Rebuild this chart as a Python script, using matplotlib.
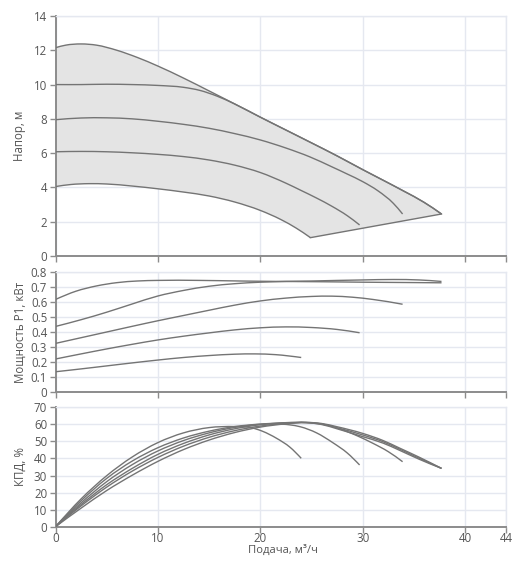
import matplotlib
matplotlib.use("Agg")
import matplotlib.pyplot as plt
from matplotlib.path import Path
from matplotlib.patches import PathPatch
import numpy as np

plt.rcParams['font.family'] = ['Open Sans', 'DejaVu Sans']

# ---------------- data ----------------
x_ticks = [0, 10, 20, 30, 40, 44]

# Head curves, m
h_max_x = [0, 1, 2.5, 4, 6, 8, 10, 12.5, 15, 17.5, 20, 22.5, 25, 27.5, 30, 32, 34, 36, 37.7]
h_max_y = [12.15, 12.3, 12.37, 12.3, 12.0, 11.58, 11.08, 10.38, 9.63, 8.87, 8.1, 7.35, 6.6, 5.84, 5.04, 4.42, 3.79, 3.13, 2.45]
h10_x = [0, 2.5, 5, 7.5, 10, 12.5, 14.1, 15.8, 17.5, 20, 22.5, 25, 27.5, 30, 32, 34, 36, 37.7]
h10_y = [10.0, 10.0, 10.02, 10.0, 9.95, 9.84, 9.66, 9.32, 8.87, 8.1, 7.35, 6.6, 5.84, 5.04, 4.42, 3.79, 3.13, 2.45]
h8_x = [0, 2.5, 5, 7.5, 10, 12.5, 15, 17.5, 20, 22.5, 24.85, 27, 28.5, 30, 31.5, 33, 33.9]
h8_y = [7.95, 8.05, 8.06, 8.0, 7.86, 7.68, 7.45, 7.14, 6.77, 6.3, 5.78, 5.2, 4.78, 4.34, 3.8, 3.07, 2.45]
h6_x = [0, 2.5, 5, 7.5, 10, 12.5, 15, 17.5, 20, 22.5, 24, 25.5, 27, 28.5, 29.7]
h6_y = [6.08, 6.1, 6.08, 6.02, 5.93, 5.8, 5.6, 5.3, 4.87, 4.25, 3.82, 3.38, 2.9, 2.35, 1.81]
h4_x = [0, 1.5, 3.3, 5, 7.5, 10, 12.5, 15, 17.5, 20, 22, 23.5, 24.9]
h4_y = [4.05, 4.17, 4.22, 4.2, 4.08, 3.92, 3.73, 3.5, 3.15, 2.66, 2.13, 1.63, 1.07]

# Power P1, kW
p_a_x = [0, 2, 4, 6, 8, 10, 14, 18, 22, 26, 30, 34, 37.7]
p_a_y = [0.615, 0.67, 0.705, 0.727, 0.738, 0.742, 0.742, 0.738, 0.735, 0.733, 0.73, 0.728, 0.726]
p_b_x = [0, 2.5, 5, 7.5, 10, 12.5, 15, 17.5, 20, 25, 30, 33, 35.5, 37.7]
p_b_y = [0.435, 0.48, 0.53, 0.585, 0.638, 0.675, 0.703, 0.72, 0.73, 0.738, 0.745, 0.748, 0.745, 0.735]
p_c_x = [0, 2.5, 5, 7.5, 10, 12.5, 15, 17.5, 20, 22.5, 25, 27, 29, 31, 33.9]
p_c_y = [0.322, 0.36, 0.398, 0.436, 0.473, 0.508, 0.543, 0.577, 0.605, 0.624, 0.635, 0.637, 0.63, 0.615, 0.583]
p_d_x = [0, 2.5, 5, 7.5, 10, 12.5, 15, 17.5, 20, 22.5, 25, 27.5, 29.7]
p_d_y = [0.218, 0.252, 0.285, 0.316, 0.345, 0.37, 0.392, 0.412, 0.426, 0.432, 0.428, 0.415, 0.393]
p_e_x = [0, 2.5, 5, 7.5, 10, 12.5, 15, 17.5, 19.5, 21.5, 24]
p_e_y = [0.133, 0.152, 0.172, 0.192, 0.211, 0.228, 0.241, 0.25, 0.252, 0.247, 0.228]

# Efficiency, %
e1_x = [0, 2.5, 5, 7.5, 10, 12.5, 15, 17.5, 19, 20.2, 21.6, 22.9, 24.0]
e1_y = [0, 16.3, 29.9, 40.9, 49.3, 55.0, 58.1, 58.7, 58.2, 56.0, 51.8, 46.6, 40.1]
e2_x = [0, 2.5, 5, 7.5, 10, 12.5, 15, 17.5, 20, 21.5, 22.9, 23.9, 25.5, 27.1, 28.5, 29.7]
e2_y = [0, 15.2, 28.3, 38.5, 46.3, 52.0, 56.0, 58.7, 60.1, 60.3, 59.7, 58.6, 55.0, 49.2, 43.2, 36.2]
e3_x = [0, 2.5, 5, 7.5, 10, 12.5, 15, 17.5, 20, 22.5, 24.5, 26.5, 27.8, 29.5, 31, 32.5, 33.9]
e3_y = [0, 14.0, 26.4, 36.4, 44.4, 50.5, 55.0, 58.2, 60.1, 60.9, 61.0, 59.6, 57.3, 53.2, 48.9, 44.0, 38.1]
e456_x = [0, 2.5, 5, 7.5, 10, 12.5, 15, 17.5, 20, 22.5, 24.5, 26, 27.5, 30, 32, 33.6, 35.5, 37.7]
e4_y = [0, 13.0, 24.6, 34.2, 42.4, 48.8, 53.8, 57.4, 59.8, 61.0, 61.2, 60.5, 58.6, 54.7, 50.5, 46.1, 40.8, 34.2]
e5_y = [0, 12.2, 23.2, 32.6, 40.6, 47.2, 52.4, 56.3, 59.0, 60.6, 61.1, 60.2, 58.0, 53.8, 49.8, 45.5, 40.2, 34.2]
e6_y = [0, 10.9, 21.2, 30.2, 38.3, 45.2, 50.8, 55.2, 58.4, 60.3, 61.0, 59.9, 57.4, 52.8, 49.0, 44.8, 39.6, 34.2]

# ---------------- styling ----------------
LINE = '#747474'
FILL = '#e4e4e4'
GRID = '#e5e8f0'
SPINE = '#8c8c8c'
TXT = '#555555'
FS = 8.3


def hermite_path(xs, ys, start_move=True):
    """Smooth cubic curve drawn through the given points (x-parameterised)."""
    x = np.asarray(xs, float)
    y = np.asarray(ys, float)
    n = len(x)
    h = np.diff(x)
    s = np.diff(y) / h
    m = np.empty(n)
    if n == 2:
        m[:] = s[0]
    else:
        m[1:-1] = (s[:-1] * h[1:] + s[1:] * h[:-1]) / (h[:-1] + h[1:])
        m[0] = (3 * s[0] - m[1]) / 2
        m[-1] = (3 * s[-1] - m[-2]) / 2
    verts = [(x[0], y[0])]
    codes = [Path.MOVETO if start_move else Path.LINETO]
    for i in range(n - 1):
        d = h[i] / 3.0
        verts += [(x[i] + d, y[i] + m[i] * d),
                  (x[i + 1] - d, y[i + 1] - m[i + 1] * d),
                  (x[i + 1], y[i + 1])]
        codes += [Path.CURVE4] * 3
    return verts, codes


def curve(ax, xs, ys):
    v, c = hermite_path(xs, ys)
    ax.add_patch(PathPatch(Path(v, c), facecolor='none', edgecolor=LINE,
                           lw=1.0, zorder=3, capstyle='butt'))


def style(ax, ylim, yticks, ylabels, show_x):
    ax.set_xlim(0, 44)
    ax.set_ylim(*ylim)
    ax.set_xticks(x_ticks)
    ax.set_yticks(yticks)
    ax.set_yticklabels(ylabels)
    ax.grid(True, color=GRID, lw=1.0, zorder=0)
    ax.set_axisbelow(True)
    for sp in ['top', 'right']:
        ax.spines[sp].set_color(GRID)
        ax.spines[sp].set_linewidth(1.0)
    for sp in ['left', 'bottom']:
        ax.spines[sp].set_color(SPINE)
        ax.spines[sp].set_linewidth(1.4)
    ax.tick_params(axis='both', direction='out', length=4, width=1.0,
                   color=SPINE, labelcolor=TXT, labelsize=FS, pad=2)
    if not show_x:
        ax.tick_params(axis='x', labelbottom=False)


fig = plt.figure(figsize=(5.2, 5.79), dpi=100)
L, W = 55.5 / 520, 450.5 / 520
ax1 = fig.add_axes([L, 1 - 256 / 579, W, 240 / 579])
ax2 = fig.add_axes([L, 1 - 391.7 / 579, W, 120 / 579])
ax3 = fig.add_axes([L, 1 - 526.7 / 579, W, 119.4 / 579])

# ---- head panel ----
style(ax1, (0, 14), list(range(0, 15, 2)), [str(v) for v in range(0, 15, 2)], False)
v1, c1 = hermite_path(h_max_x, h_max_y)
v2, c2 = hermite_path(h4_x[::-1], h4_y[::-1], start_move=False)
verts = [(0, h4_y[0])] + v1 + v2 + [(0, h4_y[0])]
codes = [Path.MOVETO] + [Path.LINETO] + c1[1:] + c2 + [Path.CLOSEPOLY]
ax1.add_patch(PathPatch(Path(verts, codes), facecolor=FILL, edgecolor='none', zorder=1))
for xs, ys in [(h_max_x, h_max_y), (h10_x, h10_y), (h8_x, h8_y), (h6_x, h6_y), (h4_x, h4_y)]:
    curve(ax1, xs, ys)
ax1.plot([h4_x[-1], h_max_x[-1]], [h4_y[-1], h_max_y[-1]], color=LINE, lw=1.0, zorder=3)

# ---- power panel ----
pt = [round(0.1 * i, 1) for i in range(9)]
style(ax2, (0, 0.8), pt, ['0'] + [f'{v:.1f}' for v in pt[1:]], False)
for xs, ys in [(p_a_x, p_a_y), (p_b_x, p_b_y), (p_c_x, p_c_y), (p_d_x, p_d_y), (p_e_x, p_e_y)]:
    curve(ax2, xs, ys)

# ---- efficiency panel ----
et = list(range(0, 71, 10))
style(ax3, (0, 70), et, [str(v) for v in et], True)
for xs, ys in [(e1_x, e1_y), (e2_x, e2_y), (e3_x, e3_y), (e456_x, e4_y), (e456_x, e5_y), (e456_x, e6_y)]:
    curve(ax3, xs, ys)
ax3.tick_params(axis='x', pad=0)

# ---- axis titles ----
fig.text(20 / 520, 1 - 136 / 579, 'Напор, м', rotation=90, ha='center', va='center', fontsize=FS, color=TXT)
fig.text(20 / 520, 1 - 332 / 579, 'Мощность P1, кВт', rotation=90, ha='center', va='center', fontsize=FS, color=TXT)
fig.text(20 / 520, 1 - 467 / 579, 'КПД, %', rotation=90, ha='center', va='center', fontsize=FS, color=TXT)
fig.text(283 / 520, 1 - 550.5 / 579, 'Подача, м³/ч', ha='center', va='center', fontsize=8.1, color=TXT)

fig.savefig('out.png', dpi=100)
